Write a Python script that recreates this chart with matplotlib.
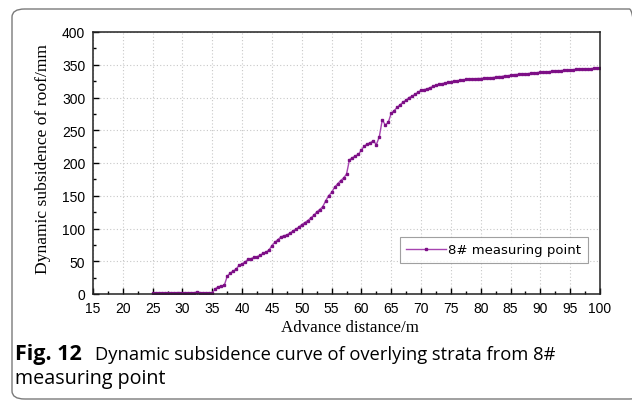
import numpy as np
import matplotlib
matplotlib.use("Agg")
import matplotlib.pyplot as plt
from matplotlib.patches import FancyBboxPatch
from matplotlib.ticker import MultipleLocator

# Data
advance_m = [25.0 + 0.5 * i for i in range(151)]
subsidence_mm = [
    1, 1, 1, 1, 1, 2, 1, 2, 2, 2,
    2, 2, 2, 2, 2, 3, 2, 2, 2, 2,
    2, 8, 11, 12, 13, 27, 32, 35, 38, 44,
    46, 49, 53, 54, 56, 57, 59, 62, 64, 67,
    74, 79, 83, 87, 89, 90, 93, 96, 99, 102,
    106, 109, 112, 116, 120, 125, 129, 133, 142, 150,
    155, 163, 168, 173, 177, 183, 205, 208, 211, 213,
    220, 226, 229, 231, 234, 228, 240, 266, 258, 262,
    276, 280, 285, 289, 293, 296, 300, 302, 305, 308,
    311, 312, 313, 315, 317, 319, 320, 321, 322, 323,
    324, 325, 325.5, 326, 327, 327.5, 328, 328, 328.5, 329,
    329, 329.5, 330, 330, 330.5, 331, 332, 332, 333, 333,
    334, 334.5, 335, 335.5, 336, 336, 336.5, 337, 337.5, 338,
    338.5, 338.5, 339, 339.5, 340, 340.5, 341, 341, 341.5, 342,
    342, 342.5, 343, 343, 343.5, 344, 344, 344, 344.5, 344.5,
    345,
]
series_label = "8# measuring point"
x_label = "Advance distance/m"
y_label = "Dynamic subsidence of roof/mm"

W, H = 632, 402
fig = plt.figure(figsize=(W / 100, H / 100), dpi=100)

# Rounded frame around figure
frame = FancyBboxPatch((12 / W, 2 / H), (W + 10 - 12) / W, (H - 12) / H,
                       boxstyle="round,pad=0,rounding_size=0.02",
                       transform=fig.transFigure, fill=False,
                       edgecolor="#7a7a7a", linewidth=1.0, clip_on=False)
fig.patches.append(frame)

ax = fig.add_axes([93 / W, 1 - 295 / H, (600 - 93) / W, (295 - 33) / H])
ax.plot(advance_m, subsidence_mm, color="#a644b0", linewidth=1.0,
        marker="s", markersize=2.1, markerfacecolor="#7d0f86",
        markeredgecolor="#7d0f86", label=series_label)

ax.set_xlim(15, 100)
ax.set_ylim(0, 400)
ax.xaxis.set_major_locator(MultipleLocator(5))
ax.xaxis.set_minor_locator(MultipleLocator(2.5))
ax.yaxis.set_major_locator(MultipleLocator(50))
ax.yaxis.set_minor_locator(MultipleLocator(25))
ax.grid(True, which="major", color="#c8c8c8", linestyle=(0, (1, 2)), linewidth=0.8)
ax.tick_params(which="both", direction="in", top=False, right=False,
               labelsize=10)
ax.tick_params(axis="x", which="major", pad=5)
ax.tick_params(axis="y", which="major", pad=5.5)
ax.tick_params(which="major", length=4, width=1)
ax.tick_params(which="minor", length=2.5, width=1)
for lab in ax.get_xticklabels() + ax.get_yticklabels():
    lab.set_fontfamily("Liberation Sans")
for s in ax.spines.values():
    s.set_linewidth(1.1)
    s.set_color("#222222")

ax.set_xlabel(x_label, fontfamily="Liberation Serif", fontsize=12.2)
ax.set_ylabel(y_label, fontfamily="Liberation Serif", fontsize=12.6)
ax.xaxis.set_label_coords((350 - 93) / 507, (295 - 320) / 262)
ax.yaxis.set_label_coords((51 - 93) / 507, (295 - 159) / 262)

leg = ax.legend(loc="lower right", bbox_to_anchor=((588 - 93) / 507, (295 - 264) / 262),
                borderaxespad=0,
                prop={"family": "DejaVu Sans", "size": 9.5},
                frameon=True, fancybox=False, edgecolor="#888888",
                handlelength=3.0, borderpad=0.5, handletextpad=0.2)
leg.get_frame().set_linewidth(0.8)

# Caption
fig.text(15 / W, 1 - 355 / H, "Fig. 12", fontfamily="Open Sans",
         fontweight="bold", fontsize=15.5, va="center", ha="left")
fig.text(95 / W, 1 - 355 / H,
         "Dynamic subsidence curve of overlying strata from 8#",
         fontfamily="Open Sans", fontsize=13.2, va="center", ha="left")
fig.text(15 / W, 1 - 379 / H, "measuring point", fontfamily="Open Sans",
         fontsize=14.2, va="center", ha="left")

fig.savefig("out.png", dpi=100)
